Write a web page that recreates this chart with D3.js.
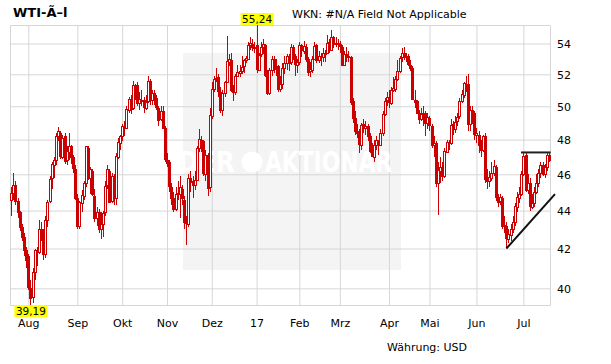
<!DOCTYPE html>
<html><head><meta charset="utf-8">
<script src="https://cdn.jsdelivr.net/npm/d3@7"></script>
<style>
html,body{margin:0;padding:0;background:#fff}
svg{display:block}
text{font-family:"DejaVu Sans",Verdana,sans-serif}
</style>
</head><body>
<svg id="c" width="611" height="364"></svg>
<script>
// ---- data (WTI daily candles, Jul 20 2016 – Jul 20 2017) ----
const monthLabels = ["Aug","Sep","Okt","Nov","Dez","17","Feb","Mrz","Apr","Mai","Jun","Jul"];
const monthIdx    = [8,31,52,73,94,115,135,154,177,196,218,240];
const yTicks      = [40,42,44,46,48,50,52,54];

const opens = [
44.60,44.95,45.40,44.50,43.90,43.10,42.60,41.90,41.60,40.00,
39.60,40.80,41.90,41.80,43.00,42.80,41.70,43.50,44.50,45.80,
46.50,46.80,48.20,48.40,47.00,48.20,46.80,47.30,47.60,47.00,
46.30,44.70,43.20,44.40,44.80,45.50,47.50,45.80,46.20,44.80,
43.60,43.90,43.00,43.30,43.90,45.40,46.20,44.50,45.90,44.70,
47.00,47.80,48.20,48.80,48.70,49.80,50.40,49.90,51.30,51.30,
50.20,50.40,50.40,49.90,50.30,51.60,50.40,50.80,50.50,49.90,
49.20,49.70,48.70,46.80,46.70,45.30,44.70,44.10,44.90,44.90,
45.20,44.60,43.40,43.30,45.80,45.60,45.40,45.70,47.50,48.00,
47.90,46.00,47.10,45.30,49.40,51.10,51.70,51.80,50.90,49.80,
50.80,51.50,52.80,52.90,51.00,50.90,51.90,52.10,52.20,52.50,
52.90,53.00,53.90,54.00,53.80,53.90,52.30,53.30,53.80,53.90,
52.00,50.80,52.30,53.00,52.40,52.50,51.10,51.40,52.40,52.70,
53.20,52.80,53.80,53.20,52.60,52.80,53.90,53.50,53.80,53.00,
52.20,52.30,53.00,53.90,52.90,53.20,53.10,53.40,53.40,54.10,
53.60,54.40,54.00,54.00,54.00,53.80,52.60,53.30,53.20,53.10,
50.30,49.30,48.50,48.40,47.70,48.90,48.70,48.80,48.20,47.30,
47.00,47.70,47.90,47.70,48.40,49.50,50.40,50.60,50.20,51.00,
51.10,51.70,52.20,53.10,53.40,53.10,53.20,52.60,52.40,50.40,
50.30,49.60,49.20,49.60,49.60,49.00,49.30,48.80,47.70,47.80,
45.50,46.20,46.40,45.90,47.30,47.80,47.80,48.90,48.60,49.10,
49.40,50.30,50.70,51.40,51.40,48.90,49.80,49.60,48.30,48.30,
47.60,47.40,48.20,45.70,45.60,45.80,46.10,46.40,44.70,44.50,
44.70,43.20,43.20,42.50,42.70,43.00,43.40,44.20,44.70,44.90,
46.00,47.10,45.10,45.50,44.20,44.40,45.00,45.50,46.10,46.50,
46.00,46.40,47.10];

const highs = [
45.30,46.10,45.60,44.70,44.00,43.30,42.80,42.10,41.70,40.40,
41.00,42.00,42.10,43.50,43.40,43.00,43.70,44.60,45.90,46.70,
47.00,48.40,48.75,48.50,48.30,48.40,47.60,48.40,47.70,47.10,
46.50,44.90,44.50,45.10,45.60,47.65,47.60,46.40,46.30,45.20,
44.20,44.10,43.90,44.00,45.60,46.55,46.30,46.10,46.00,47.20,
48.10,48.30,48.90,49.10,50.00,50.60,50.70,51.60,51.40,51.50,
50.90,51.00,50.60,50.70,51.90,51.70,51.00,51.00,50.70,50.00,
50.00,50.00,48.80,47.20,46.80,45.50,45.00,45.30,45.60,45.90,
45.40,44.80,43.70,46.00,46.20,45.90,46.20,47.60,48.60,48.20,
48.00,47.40,47.20,49.90,51.50,51.90,52.40,52.00,51.20,51.00,
51.60,54.50,53.30,53.40,51.30,52.00,52.60,52.60,53.20,53.00,
53.20,54.10,54.40,54.30,54.10,55.24,53.40,54.10,54.30,54.00,
52.30,52.40,53.20,53.20,53.00,52.60,51.90,52.70,53.20,53.30,
53.30,54.00,53.90,53.30,53.00,54.10,54.00,54.20,54.00,53.10,
52.80,53.20,54.10,54.00,53.50,53.40,53.70,53.60,54.60,54.30,
54.90,54.50,54.40,54.30,54.20,53.90,53.50,53.80,53.50,53.20,
50.50,49.70,48.90,48.60,49.00,49.20,49.10,48.90,48.40,47.80,
48.00,48.20,48.00,48.60,49.70,50.50,50.90,51.00,51.20,51.80,
51.90,52.90,53.20,53.70,53.76,53.40,53.30,52.90,52.50,51.00,
50.40,49.80,49.90,50.00,49.70,49.60,49.40,48.90,48.20,47.90,
46.70,47.00,46.70,47.50,48.00,48.00,49.20,49.10,49.40,49.60,
50.50,51.00,51.50,51.90,52.00,50.00,50.00,49.70,48.70,48.50,
48.00,48.30,48.40,46.30,46.20,46.70,46.80,46.50,44.90,44.90,
44.80,43.70,43.40,43.00,43.30,43.70,44.40,45.00,45.30,46.20,
47.30,47.30,46.00,45.80,44.90,45.30,46.00,46.30,46.70,46.70,
46.60,47.25,47.30];

const lows = [
43.70,44.55,44.30,43.60,42.90,42.40,41.60,41.00,39.90,39.19,
39.30,40.40,41.10,41.70,42.40,41.40,41.50,43.10,44.40,45.20,
45.80,46.50,47.90,46.90,46.90,46.60,46.50,46.80,46.60,46.10,
44.60,43.00,43.00,43.90,44.60,45.30,45.70,44.90,44.80,43.40,
43.20,42.80,42.50,42.60,43.70,45.20,44.40,44.40,44.30,44.30,
46.90,47.40,47.90,48.20,48.60,49.60,49.50,49.80,50.40,50.00,
49.80,50.00,49.60,49.80,50.20,50.10,50.10,50.10,49.80,48.80,
49.10,48.60,46.70,46.40,45.00,44.30,43.90,44.00,44.60,43.60,
44.30,43.00,42.20,43.10,45.00,44.70,45.10,45.60,47.30,47.30,
45.90,45.60,44.80,45.00,49.20,50.90,51.50,50.60,49.60,49.40,
50.60,51.50,52.50,50.90,50.30,50.70,51.80,51.80,52.00,52.10,
52.70,52.90,53.60,53.50,53.40,52.10,52.20,53.10,53.30,51.80,
50.70,50.70,51.90,52.10,51.90,50.90,50.90,51.10,52.00,52.30,
52.20,52.60,52.90,51.90,52.10,52.60,53.10,53.30,52.80,51.90,
51.80,52.10,52.90,52.70,52.70,52.50,52.80,52.80,53.30,53.40,
53.50,53.70,53.80,53.60,53.40,52.50,52.50,52.80,52.80,50.10,
49.00,48.30,48.10,47.20,47.40,48.40,48.30,47.90,47.20,47.00,
46.70,47.40,47.10,47.60,48.20,49.40,50.00,49.90,50.10,50.90,
50.90,51.60,52.10,52.80,52.90,52.80,52.50,52.20,50.40,49.90,
49.50,48.90,49.10,48.80,48.20,48.60,48.50,47.50,47.00,45.30,
43.76,45.50,45.60,45.80,47.20,47.40,47.70,48.30,48.40,48.80,
49.20,50.20,50.50,50.90,48.50,48.50,48.90,48.00,47.80,47.20,
47.00,47.30,45.50,45.20,45.30,45.60,45.90,44.50,44.20,44.30,
43.00,42.80,42.05,42.30,42.40,42.80,43.20,43.90,44.40,44.80,
45.90,45.00,44.90,44.00,44.10,44.20,44.90,45.30,45.80,45.90,
45.80,46.20,46.70];

const closes = [
44.94,45.40,44.50,43.90,43.13,42.60,41.90,41.40,40.06,39.51,
40.83,41.93,41.80,43.02,42.77,41.71,43.49,44.49,45.74,46.58,
46.79,48.22,48.52,47.05,48.10,46.77,47.33,47.64,46.98,46.35,
44.70,43.16,44.44,44.83,45.50,47.62,45.88,46.29,44.90,43.58,
43.91,43.03,43.30,43.85,45.34,46.32,44.48,45.93,44.67,47.05,
47.83,48.24,48.81,48.69,49.83,50.44,49.81,51.35,51.29,50.18,
50.44,50.35,49.94,50.29,51.60,50.43,50.85,50.52,49.96,49.18,
49.72,48.70,46.86,46.67,45.34,44.66,44.07,44.89,44.98,45.27,
44.66,43.41,43.32,45.81,45.57,45.42,45.69,47.49,48.03,47.96,
46.06,47.08,45.23,49.44,51.06,51.68,51.79,50.93,49.77,50.84,
51.50,52.83,52.98,51.04,50.90,51.90,52.12,52.23,52.49,52.95,
53.02,53.90,54.06,53.77,53.72,52.33,53.26,53.76,53.99,51.96,
50.82,52.25,53.01,52.37,52.48,51.08,51.37,52.42,52.75,53.18,
52.75,53.78,53.17,52.63,52.81,53.88,53.54,53.83,53.01,52.17,
52.34,53.00,53.86,52.93,53.20,53.11,53.36,53.40,54.06,53.59,
54.45,53.99,54.05,54.01,53.83,52.61,53.33,53.20,53.14,50.28,
49.28,48.49,48.40,47.72,48.86,48.75,48.78,48.22,47.34,47.04,
47.70,47.97,47.73,48.37,49.51,50.35,50.60,50.24,51.03,51.15,
51.70,52.24,53.08,53.40,53.11,53.18,52.65,52.41,50.44,50.27,
49.62,49.23,49.56,49.62,48.97,49.33,48.84,47.66,47.82,45.52,
46.22,46.43,45.88,47.33,47.83,47.84,48.85,48.66,49.07,49.35,
50.33,50.73,51.47,51.36,48.90,49.80,49.66,48.32,48.36,47.66,
47.40,48.19,45.72,45.64,45.83,46.08,46.46,44.73,44.46,44.74,
43.20,43.23,42.53,42.74,43.01,43.38,44.24,44.74,44.93,46.04,
47.07,45.13,45.52,44.23,44.40,45.04,45.49,46.08,46.54,46.02,
46.40,47.12,46.79];

// drawn trend lines: [candle index, price]
const supportLine    = [[232, 42.0], [254.8, 44.9]];
const resistanceLine = [[238.9, 47.25], [252.8, 47.25]];

const titleText = "WTI-Ã–l";
const wknText = "WKN: #N/A Field Not Applicable";
const currencyText = "Währung: USD";

// ---- layout ----
const svg = d3.select("#c");
const P = {l: 10, r: 550, t: 25, b: 305};
const N = closes.length;
const x = d3.scaleLinear().domain([0, N - 1]).range([11.2, 549]);
const y = d3.scaleLog().domain([d3.min(lows), d3.max(highs)]).range([P.b, P.t]);
const RED = "#cc0000", GRID = "#d6d6d6";

svg.append("rect").attr("width", 611).attr("height", 364).attr("fill", "#fff");

// watermark
svg.append("rect").attr("x", 183).attr("y", 53).attr("width", 218).attr("height", 217).attr("fill", "#f4f4f4");

// grid via axes
const gx = svg.append("g").attr("transform", `translate(0,${P.b})`)
  .call(d3.axisBottom(x).tickValues(monthIdx).tickFormat((d, i) => monthLabels[i]).tickSize(P.t - P.b));
gx.select(".domain").remove();
gx.selectAll(".tick line").attr("stroke", GRID);
gx.selectAll(".tick text").attr("y", 22).attr("dy", 0).attr("font-size", 11)
  .attr("font-family", "DejaVu Sans, Verdana, sans-serif").attr("fill", "#000");

const gy = svg.append("g").attr("transform", `translate(${P.r},0)`)
  .call(d3.axisRight(y).tickValues(yTicks).tickFormat(d3.format("d")).tickSize(P.l - P.r));
gy.select(".domain").remove();
gy.selectAll(".tick line").attr("stroke", GRID);
gy.selectAll(".tick text").attr("x", 7).attr("dy", "0.36em").attr("font-size", 11)
  .attr("font-family", "DejaVu Sans, Verdana, sans-serif").attr("fill", "#000");

// frame
const frame = svg.append("g").attr("stroke", GRID).attr("fill", "none");
frame.append("path").attr("d", `M${P.l + 0.5},${P.t + 0.5}H${P.r + 0.5}V${P.b + 0.5}H${P.l + 0.5}Z`);

// watermark text
const wm = svg.append("g").attr("fill", "#fff").attr("font-weight", "bold").attr("font-size", 28);
wm.append("text").attr("x", 178).attr("y", 172).attr("textLength", 57).attr("lengthAdjust", "spacingAndGlyphs").text("DER");
wm.append("circle").attr("cx", 252).attr("cy", 162).attr("r", 10.5).attr("fill", "#fff");
wm.append("text").attr("x", 265).attr("y", 172).attr("textLength", 127).attr("lengthAdjust", "spacingAndGlyphs").text("AKTIONÄR");

// candles
const idx = d3.range(N);
const cg = svg.append("g");
idx.forEach(i => {
  const cx = Math.round(x(i));
  const up = closes[i] >= opens[i];
  cg.append("line").attr("x1", cx + 0.5).attr("x2", cx + 0.5)
    .attr("y1", Math.round(y(highs[i]))).attr("y2", Math.round(y(lows[i])))
    .attr("stroke", RED).attr("stroke-width", 1);
  const top = Math.round(y(Math.max(opens[i], closes[i])));
  const bot = Math.round(y(Math.min(opens[i], closes[i])));
  cg.append("rect").attr("x", cx - 0.5).attr("y", top + 0.5).attr("width", 2).attr("height", Math.max(bot - top, 1))
    .attr("fill", up ? "#fff" : RED).attr("stroke", RED).attr("stroke-width", 1);
});

// trend lines
const line = d3.line().x(d => x(d[0])).y(d => y(d[1]));
svg.append("path").datum(resistanceLine).attr("d", line).attr("stroke", "#222").attr("stroke-width", 2).attr("fill", "none");
svg.append("path").datum(supportLine).attr("d", line).attr("stroke", "#111").attr("stroke-width", 2).attr("fill", "none");

// max / min labels
const fmt = v => d3.format(".2f")(v).replace(".", ",");
function tag(i, v, yText, yBox) {
  const g = svg.append("g");
  const t = g.append("text").attr("x", x(i) + 0.5).attr("y", yText).attr("text-anchor", "middle")
    .attr("font-size", 10.5).attr("fill", "#000").text(fmt(v));
  const w = t.node().getComputedTextLength() + 3;
  g.insert("rect", "text").attr("x", x(i) + 0.5 - w / 2).attr("y", yBox).attr("width", w).attr("height", 12).attr("fill", "#ffff00");
}
const iMax = d3.maxIndex(highs), iMin = d3.minIndex(lows);
tag(iMax, highs[iMax], 23, 13);
tag(iMin, lows[iMin], 314.5, 305);

// titles
svg.append("text").attr("x", 13).attr("y", 17).attr("font-size", 13).attr("font-weight", "bold").attr("fill", "#000").text(titleText);
svg.append("text").attr("x", 292).attr("y", 18).attr("font-size", 11).attr("fill", "#000").text(wknText);
svg.append("text").attr("x", 387).attr("y", 351).attr("font-size", 11).attr("fill", "#000").text(currencyText);
</script>
</body></html>
